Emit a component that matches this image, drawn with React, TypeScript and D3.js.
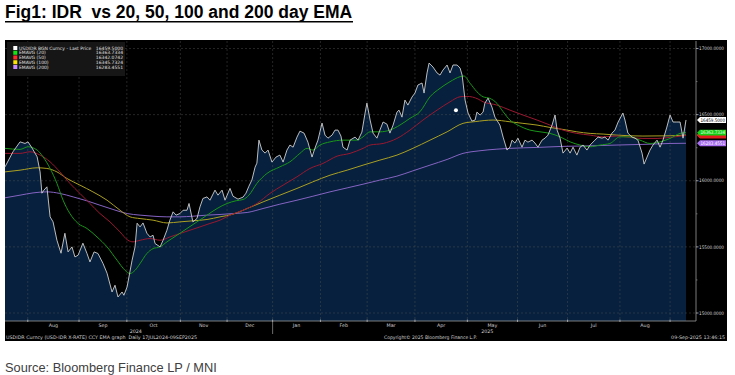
import React from "react";
import * as d3 from "d3";

// x values are trading-day indices (0 = 17 Jul 2024, 299 = 09 Sep 2025)
const price: [number, number][] = [
  [0, 16105], [3.5, 16219], [6.6, 16294], [8.8, 16282], [10.1, 16294], [11.9, 16247], [14.1, 16181],
  [15.4, 16067], [16.2, 15906], [17.1, 15929], [18.4, 15954], [19.8, 15727], [21.1, 15689], [22.8, 15550],
  [24.6, 15452], [26.3, 15603], [27.7, 15462], [29.4, 15500], [30.7, 15424], [32.1, 15437], [34.2, 15528],
  [36.0, 15450], [37.3, 15386], [39.1, 15462], [40.8, 15450], [43.0, 15376], [44.8, 15301], [47.0, 15159],
  [48.3, 15210], [49.6, 15121], [51.4, 15159], [52.2, 15134], [53.6, 15197], [55.8, 15399], [57.1, 15500],
  [58.0, 15679], [59.3, 15651], [60.6, 15681], [62.3, 15603], [63.7, 15575], [65.0, 15588], [65.9, 15525],
  [68.1, 15500], [69.4, 15550], [71.1, 15626], [72.4, 15702], [73.8, 15765], [75.1, 15740], [76.8, 15752],
  [78.2, 15777], [79.9, 15777], [80.8, 15828], [82.5, 15689], [84.3, 15715], [85.6, 15802], [86.9, 15866],
  [88.7, 15878], [90.0, 15853], [92.2, 15929], [93.5, 15891], [95.3, 15929], [96.6, 15853], [98.8, 15942],
  [100.1, 15883], [102.3, 15861], [104.5, 15876], [105.8, 15906], [107.1, 15959], [108.4, 16005], [109.8, 16103],
  [110.6, 16133], [111.5, 16307], [112.8, 16232], [114.2, 16209], [115.5, 16232], [117.2, 16141], [119.0, 16179],
  [120.7, 16194], [122.1, 16141], [123.8, 16232], [125.1, 16270], [126.5, 16254], [128.2, 16330], [129.5, 16375],
  [131.3, 16360], [133.0, 16292], [134.8, 16179], [136.1, 16247], [137.4, 16307], [139.2, 16436], [140.5, 16345],
  [141.8, 16322], [143.6, 16345], [144.9, 16383], [146.2, 16383], [147.5, 16338], [148.4, 16254], [150.2, 16232],
  [151.5, 16307], [153.7, 16330], [155.0, 16307], [156.7, 16368], [158.1, 16512], [158.9, 16587], [160.3, 16459],
  [161.6, 16360], [163.3, 16322], [164.6, 16383], [166.0, 16444], [167.7, 16428], [169.0, 16360], [170.4, 16421],
  [172.1, 16519], [173.0, 16534], [174.3, 16481], [175.6, 16610], [176.9, 16572], [178.7, 16633], [180.0, 16663],
  [181.3, 16724], [183.1, 16739], [184.0, 16663], [185.3, 16815], [186.2, 16890], [187.9, 16860], [189.7, 16815],
  [191.0, 16799], [192.3, 16837], [194.1, 16875], [195.4, 16815], [196.7, 16875], [198.5, 16875], [199.8, 16852],
  [200.7, 16799], [202.0, 16610], [203.3, 16512], [205.0, 16451], [206.4, 16459], [207.2, 16519], [208.6, 16497],
  [209.9, 16519], [210.7, 16587], [212.1, 16625], [213.8, 16557], [215.1, 16481], [217.3, 16421], [218.7, 16330],
  [220.4, 16232], [221.7, 16254], [222.6, 16307], [223.9, 16285], [225.2, 16322], [227.0, 16254], [228.3, 16307],
  [229.6, 16292], [231.4, 16307], [232.7, 16285], [234.0, 16254], [235.8, 16307], [237.1, 16322], [238.4, 16345],
  [240.2, 16421], [241.5, 16497], [242.4, 16383], [243.7, 16322], [245.0, 16209], [246.8, 16247], [248.1, 16209],
  [249.4, 16254], [251.1, 16194], [252.5, 16254], [253.8, 16270], [255.5, 16232], [256.9, 16270], [259.0, 16307],
  [260.4, 16330], [262.1, 16322], [263.4, 16330], [264.8, 16307], [266.5, 16360], [267.8, 16383], [269.2, 16444],
  [271.3, 16512], [272.2, 16459], [273.5, 16360], [275.3, 16330], [276.6, 16322], [277.9, 16307], [279.7, 16209],
  [280.6, 16126], [281.9, 16179], [283.2, 16232], [284.5, 16270], [286.3, 16307], [287.6, 16254], [288.9, 16307],
  [290.6, 16406], [292.0, 16497], [293.3, 16444], [295.0, 16444], [296.4, 16444], [297.7, 16322], [299, 16459.5],
];

const ema20: [number, number][] = [
  [0, 16245], [6.6, 16237], [10.1, 16257], [14.1, 16232], [16.7, 16181], [19.8, 16093], [22.8, 15980],
  [25.5, 15853], [28.5, 15752], [32.1, 15677], [36.0, 15639], [40.4, 15575], [44.8, 15500], [49.2, 15399],
  [52.7, 15323], [54.9, 15298], [57.1, 15323], [59.3, 15374], [62.3, 15450], [65.0, 15487], [68.1, 15500],
  [71.1, 15538], [75.5, 15588], [79.9, 15639], [84.3, 15689], [88.7, 15740], [93.1, 15790], [97.5, 15828],
  [101.5, 15849], [104.5, 15858], [107.1, 15891], [110.6, 15980], [115.0, 16055], [120.7, 16105], [125.1, 16143],
  [129.5, 16207], [132.6, 16245], [135.2, 16232], [138.3, 16270], [142.7, 16294], [148.4, 16307], [154.5, 16307],
  [157.2, 16332], [160.3, 16370], [164.6, 16370], [169.0, 16383], [173.4, 16421], [177.8, 16472], [182.2, 16522],
  [186.6, 16635], [191.0, 16699], [195.4, 16749], [199.8, 16787], [201.5, 16792], [204.2, 16737], [207.2, 16673],
  [209.9, 16635], [212.9, 16623], [216.0, 16585], [218.7, 16522], [221.7, 16459], [225.2, 16421], [230.5, 16383],
  [234.9, 16370], [239.3, 16358], [243.7, 16332], [248.1, 16294], [252.5, 16270], [256.9, 16257], [261.2, 16270],
  [265.6, 16282], [270.0, 16332], [274.4, 16332], [278.8, 16307], [283.2, 16282], [287.6, 16294], [292.0, 16320],
  [296.4, 16358], [299, 16363.7],
];

const ema50: [number, number][] = [
  [0, 16207], [6.6, 16207], [11.0, 16219], [15.4, 16194], [19.8, 16143], [24.1, 16067], [28.5, 15980],
  [32.9, 15904], [37.3, 15828], [41.7, 15752], [46.1, 15689], [50.5, 15613], [54.0, 15550], [56.2, 15538],
  [59.3, 15550], [63.7, 15563], [68.1, 15550], [72.4, 15575], [76.8, 15601], [81.2, 15626], [85.6, 15651],
  [90.0, 15677], [94.4, 15702], [98.8, 15740], [104.5, 15777], [110.6, 15828], [116.3, 15904], [122.1, 15967],
  [128.2, 16030], [133.9, 16093], [139.6, 16131], [145.8, 16186], [151.5, 16207], [157.2, 16245], [160.3, 16270],
  [166.0, 16282], [172.1, 16320], [177.8, 16383], [183.5, 16459], [189.7, 16534], [195.4, 16597], [199.8, 16635],
  [202.8, 16638], [207.7, 16618], [209.9, 16597], [216.0, 16572], [221.7, 16534], [227.4, 16497], [233.6, 16459],
  [239.3, 16421], [245.0, 16383], [251.1, 16358], [256.9, 16345], [262.6, 16332], [268.7, 16338], [274.4, 16328],
  [280.1, 16320], [286.3, 16320], [292.0, 16328], [299, 16342.1],
];

const ema100: [number, number][] = [
  [0, 16067], [6.6, 16080], [14.1, 16098], [18.4, 16093], [22.8, 16067], [27.2, 16017], [32.9, 15967],
  [38.6, 15916], [44.8, 15853], [50.5, 15777], [54.9, 15727], [59.3, 15714], [65.0, 15702], [71.1, 15681],
  [76.8, 15689], [82.5, 15697], [88.7, 15707], [94.4, 15727], [100.1, 15747], [106.3, 15790], [113.3, 15840],
  [120.7, 15891], [128.2, 15942], [135.2, 15992], [142.7, 16042], [150.2, 16080], [157.2, 16118], [164.6, 16156],
  [172.1, 16194], [179.1, 16245], [186.6, 16307], [194.1, 16370], [201.1, 16434], [206.4, 16447], [214.3, 16459],
  [221.7, 16446], [227.4, 16434], [233.6, 16421], [239.3, 16403], [245.0, 16388], [251.1, 16370], [256.9, 16358],
  [262.6, 16353], [268.7, 16345], [274.4, 16340], [280.1, 16338], [292.0, 16340], [299, 16345.7],
];

const ema200: [number, number][] = [
  [0, 15871], [6.6, 15891], [12.3, 15908], [18.4, 15916], [24.1, 15904], [29.9, 15878], [36.0, 15848],
  [41.7, 15815], [47.4, 15783], [53.6, 15752], [59.3, 15740], [65.0, 15732], [71.1, 15727], [76.8, 15727],
  [82.5, 15732], [88.7, 15740], [94.4, 15745], [100.1, 15752], [106.3, 15760], [113.3, 15790], [120.7, 15823],
  [128.2, 15853], [135.2, 15883], [142.7, 15916], [150.2, 15946], [157.2, 15974], [164.6, 16005], [172.1, 16035],
  [179.1, 16075], [186.6, 16118], [194.1, 16161], [201.1, 16207], [208.1, 16226], [216.0, 16239], [221.7, 16245],
  [233.6, 16252], [245.0, 16260], [256.9, 16264], [268.7, 16270], [280.1, 16275], [292.0, 16282], [299, 16283.5],
];

const markerPoint: [number, number] = [198, 16534];

const monthStarts = [10, 32.5, 53.5, 77, 97.5, 117.5, 138.5, 159, 180, 203, 225, 247, 270, 292];
const monthLabels = ["Aug", "Sep", "Oct", "Nov", "Dec", "Jan", "Feb", "Mar", "Apr", "May", "Jun", "Jul", "Aug"];
const yearStart2025 = 117.5;
const yearLabels = ["2024", "2025"];

const yMajorTicks = [15000, 15500, 16000, 16500, 17000];
const yMinorTicks = [15250, 15750, 16250, 16750];

const legendLabels = [
  "USDIDR BGN Curncy - Last Price",
  "EMAVG (20)",
  "EMAVG (50)",
  "EMAVG (100)",
  "EMAVG (200)",
];
const lastValues = [16459.5, 16363.7334, 16342.0742, 16345.7324, 16283.4551];

const title = "Fig1: IDR  vs 20, 50, 100 and 200 day EMA";
const source = "Source: Bloomberg Finance LP / MNI";
const footerLeft = "USDIDR Curncy (USD-IDR X-RATE) CCY EMA graph  Daily 17JUL2024-09SEP2025";
const footerMid = "Copyright\u00A9 2025 Bloomberg Finance L.P.";
const footerRight = "09-Sep-2025 13:46:15";

export default function App() {
  const W = 735;
  const H = 375;
  const panel = { x0: 5, x1: 727, y0: 40, y1: 341 };
  const plot = { left: 5, right: 696, top: 41, bottom: 321 };

  const x = d3.scaleLinear().domain([0, 299]).range([5, 686]);
  const y = d3.scaleLinear().domain([15000, 17000]).range([313, 48.5]);

  const lineGen = d3
    .line<[number, number]>()
    .x((d) => x(d[0]))
    .y((d) => y(d[1]));
  const smoothGen = d3
    .line<[number, number]>()
    .x((d) => x(d[0]))
    .y((d) => y(d[1]))
    .curve(d3.curveMonotoneX);
  const areaGen = d3
    .area<[number, number]>()
    .x((d) => x(d[0]))
    .y0(plot.bottom)
    .y1((d) => y(d[1]));

  const fontSmall = "'DejaVu Sans', 'Liberation Sans', sans-serif";
  const lineColors = ["#cfcfcf", "#1a951a", "#9a1830", "#ab9f22", "#8563c2"];
  const swatchColors = ["#ffffff", "#14e614", "#ff2a2a", "#ffe600", "#c48cff"];
  const tagColors = ["#ffffff", "#10d010", "#e01c1c", "#e0cf00", "#a86cf0"];
  const tagText = ["#000", "#fff", "#fff", "#000", "#fff"];
  // tags hidden under others in the reference show no readable text
  const tagShowText = [true, true, false, false, true];
  const emaSeries = [ema200, ema100, ema50, ema20];
  const emaColorIdx = [4, 3, 2, 1];

  const xJan = x(yearStart2025);
  const yearCenters = [(plot.left + xJan) / 2 - 3, (xJan + plot.right) / 2 + 3];

  const tagOrder = [3, 2, 1, 4, 0];

  return (
    <div style={{ position: "absolute", left: 0, top: 0, width: W, height: H, background: "#fff" }}>
      <svg width={W} height={H} style={{ display: "block" }}>
        {/* Title */}
        <text
          x={5}
          y={17.5}
          fontFamily="'Liberation Sans', Arial, sans-serif"
          fontWeight="bold"
          fontSize={17.5}
          fill="#000"
          style={{ whiteSpace: "pre" }}
        >
          {title}
        </text>
        <line x1={5} x2={353} y1={21.7} y2={21.7} stroke="#000" strokeWidth={1.6} />

        {/* Panel */}
        <rect x={panel.x0} y={panel.y0} width={panel.x1 - panel.x0} height={panel.y1 - panel.y0} fill="#000" />

        {/* Area under price */}
        <path d={areaGen(price) || ""} fill="#06203d" />

        {/* Grid */}
        {yMajorTicks.map((t) => (
          <line
            key={"gy" + t}
            x1={plot.left}
            x2={plot.right}
            y1={y(t)}
            y2={y(t)}
            stroke="#5a5a5a"
            strokeOpacity={0.7}
            strokeWidth={0.6}
            strokeDasharray="2,2"
          />
        ))}
        {monthStarts.map((m, i) => (
          <line
            key={"gx" + i}
            x1={x(m)}
            x2={x(m)}
            y1={plot.top}
            y2={plot.bottom}
            stroke="#5a5a5a"
            strokeOpacity={0.7}
            strokeWidth={0.6}
            strokeDasharray="2,2"
          />
        ))}

        {/* EMA lines */}
        {emaSeries.map((s, i) => (
          <path
            key={"ema" + i}
            d={smoothGen(s) || ""}
            fill="none"
            stroke={lineColors[emaColorIdx[i]]}
            strokeWidth={1}
          />
        ))}

        {/* Price line */}
        <path d={lineGen(price) || ""} fill="none" stroke={lineColors[0]} strokeWidth={0.9} />

        {/* Marker */}
        <circle cx={x(markerPoint[0])} cy={y(markerPoint[1])} r={2} fill="#fff" />

        {/* Axes */}
        <line x1={plot.right} x2={plot.right} y1={plot.top} y2={plot.bottom} stroke="#9a9a9a" strokeWidth={0.8} />
        <line x1={plot.left} x2={plot.right} y1={plot.bottom} y2={plot.bottom} stroke="#9a9a9a" strokeWidth={0.8} />
        {yMajorTicks.map((t) => (
          <g key={"yt" + t}>
            <line x1={plot.right} x2={plot.right + 2.5} y1={y(t)} y2={y(t)} stroke="#bbb" strokeWidth={0.8} />
            <text
              x={plot.right + 3}
              y={y(t) + 1.7}
              fontSize={4.8}
              fill="#d8d8d8"
              fontFamily={fontSmall}
              textLength={25}
              lengthAdjust="spacingAndGlyphs"
            >
              {t.toFixed(4)}
            </text>
          </g>
        ))}
        {yMinorTicks.map((t) => (
          <line key={"ymt" + t} x1={plot.right} x2={plot.right + 1.5} y1={y(t)} y2={y(t)} stroke="#999" strokeWidth={0.6} />
        ))}
        {monthStarts.map((m, i) => (
          <line key={"xt" + i} x1={x(m)} x2={x(m)} y1={plot.bottom - 1.5} y2={plot.bottom + 1} stroke="#bbb" strokeWidth={0.8} />
        ))}
        {monthLabels.map((lab, i) => (
          <text
            key={"ml" + i}
            x={(x(monthStarts[i]) + x(monthStarts[i + 1])) / 2}
            y={327}
            fontSize={4.8}
            fill="#d0d0d0"
            textAnchor="middle"
            fontFamily={fontSmall}
          >
            {lab}
          </text>
        ))}
        <line x1={xJan} x2={xJan} y1={plot.bottom} y2={334} stroke="#999" strokeWidth={0.7} />
        {yearLabels.map((lab, i) => (
          <text
            key={"yl" + i}
            x={yearCenters[i]}
            y={332.5}
            fontSize={4.8}
            fill="#d0d0d0"
            textAnchor="middle"
            fontFamily={fontSmall}
          >
            {lab}
          </text>
        ))}

        {/* Footer in panel */}
        <text x={6} y={339} fontSize={4.8} fill="#d0d0d0" fontFamily={fontSmall} textLength={191} lengthAdjust="spacingAndGlyphs" style={{ whiteSpace: "pre" }}>
          {footerLeft}
        </text>
        <text x={384} y={339} fontSize={4.8} fill="#d0d0d0" fontFamily={fontSmall} textLength={93} lengthAdjust="spacingAndGlyphs">
          {footerMid}
        </text>
        <text x={725} y={339} fontSize={4.8} fill="#d0d0d0" fontFamily={fontSmall} textAnchor="end">
          {footerRight}
        </text>

        {/* Value tags */}
        {tagOrder.map((i) => {
          const yc = y(lastValues[i]);
          const x0 = plot.right + 1;
          const pts = [
            [x0, yc],
            [x0 + 3, yc - 2.9],
            [726, yc - 2.9],
            [726, yc + 2.9],
            [x0 + 3, yc + 2.9],
          ]
            .map((p) => p.join(","))
            .join(" ");
          return (
            <g key={"tag" + i}>
              <polygon points={pts} fill={tagColors[i]} />
              {tagShowText[i] && (
                <text
                  x={x0 + 3.5}
                  y={yc + 1.7}
                  fontSize={4.8}
                  fill={tagText[i]}
                  fontFamily={fontSmall}
                  textLength={24.5}
                  lengthAdjust="spacingAndGlyphs"
                >
                  {lastValues[i].toFixed(4)}
                </text>
              )}
            </g>
          );
        })}

        {/* Legend */}
        <rect x={7} y={42} width={118} height={34} fill="#161616" />
        {legendLabels.map((lab, i) => {
          const ry = 48 + i * 4.75;
          return (
            <g key={"lg" + i}>
              <rect x={13.3} y={ry - 2} width={4} height={4} fill={swatchColors[i]} />
              <text x={19} y={ry + 1.5} fontSize={4.5} fill="#e0e0e0" fontFamily={fontSmall}>
                {lab}
              </text>
              <text x={123} y={ry + 1.5} fontSize={4.5} fill="#e0e0e0" fontFamily={fontSmall} textAnchor="end">
                {lastValues[i].toFixed(4)}
              </text>
            </g>
          );
        })}

        {/* Source */}
        <text x={5} y={371.5} fontSize={12.8} fill="#404040" fontFamily="'Liberation Sans', Arial, sans-serif">
          {source}
        </text>
      </svg>
    </div>
  );
}
